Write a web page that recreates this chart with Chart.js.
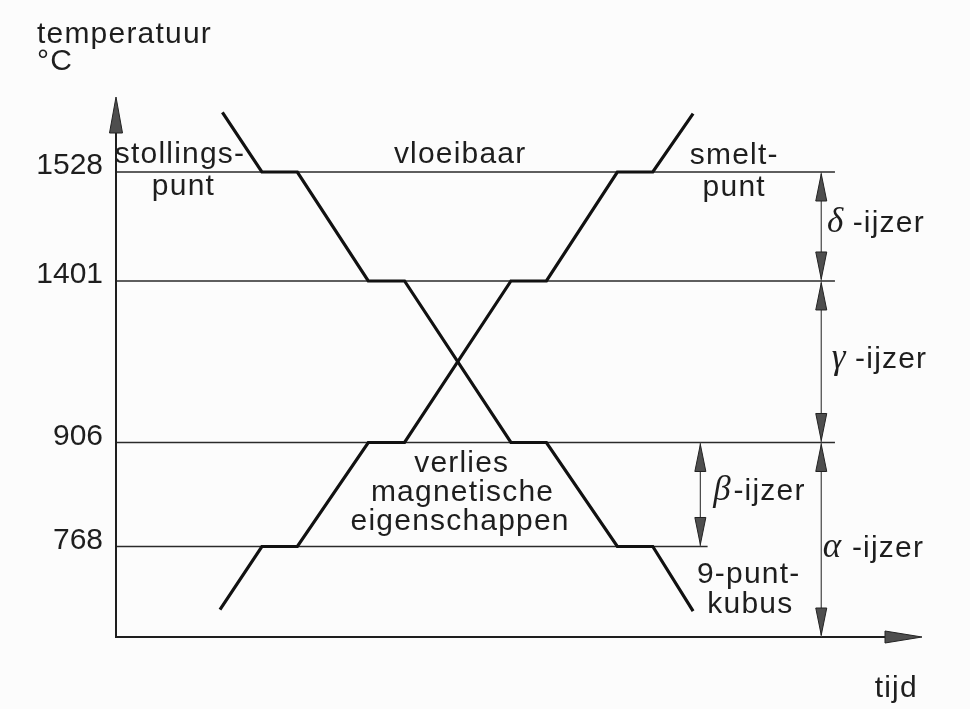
<!DOCTYPE html>
<html>
<head>
<meta charset="utf-8">
<script src="https://cdn.jsdelivr.net/npm/chart.js@4.4.1/dist/chart.umd.min.js"></script>
<style>
  body { margin: 0; background: #fcfcfc; }
  #wrap { width: 970px; height: 709px; }
</style>
</head>
<body>
<div id="wrap"><canvas id="ironChart"></canvas></div>
<script>
// transformation temperatures of iron (°C)
const levelTemps = [1528, 1401, 906, 768];
const tickTemps = [768, 906, 1401, 1528];

// cooling curve: tijd / temperatuur
const coolTime = [13.2, 18.1, 22.5, 31.3, 35.8, 49.0, 53.4, 62.2, 66.6, 71.6];
const coolTemp = [1665, 1528, 1528, 1401, 1401, 906, 906, 768, 768, 648];

// heating curve: tijd / temperatuur
const heatTime = [12.9, 18.1, 22.5, 31.3, 35.8, 49.0, 53.4, 62.2, 66.6, 71.6];
const heatTemp = [651, 768, 768, 906, 906, 1401, 1401, 1528, 1528, 1662];

// ---- layout ----
const Y_MIN = 600, Y_MAX = 1700;
// the temperature axis is schematic: where each temperature sits (fraction of the height)
const knotTemps = [Y_MIN, 768, 906, 1401, 1528, Y_MAX];
const knotFrac = [0, 0.1676, 0.3602, 0.6593, 0.8611, 1];
const levelEnds = [89.2, 89.2, 89.2, 73.4];
const bracketT = 87.5, betaT = 72.5;

const SANS = '"Liberation Sans", Arial, sans-serif';
const SERIF = '"Liberation Serif", "DejaVu Serif", serif';

function tempToFrac(v) {
	for (let i = 1; i < knotTemps.length; i++) {
		if (v <= knotTemps[i] || i === knotTemps.length - 1) {
			const a = knotTemps[i - 1], b = knotTemps[i];
			return knotFrac[i - 1] + ((v - a) / (b - a)) * (knotFrac[i] - knotFrac[i - 1]);
		}
	}
}
function fracToTemp(f) {
	for (let i = 1; i < knotFrac.length; i++) {
		if (f <= knotFrac[i] || i === knotFrac.length - 1) {
			const a = knotFrac[i - 1], b = knotFrac[i];
			return knotTemps[i - 1] + ((f - a) / (b - a)) * (knotTemps[i] - knotTemps[i - 1]);
		}
	}
}

class SchematicScale extends Chart.LinearScale {
	getPixelForValue(value) {
		if (value === null || value === undefined) return NaN;
		return this.getPixelForDecimal(tempToFrac(value));
	}
	getValueForPixel(pixel) {
		return fracToTemp(this.getDecimalForPixel(pixel));
	}
}
SchematicScale.id = "schematic";
SchematicScale.defaults = Chart.LinearScale.defaults;
Chart.register(SchematicScale);

// text labels: x in tijd units, y = temperature level + pixel offset
const labels = [
	{ text: "temperatuur", t: -9.8, temp: Y_MAX, dy: -54, align: "left" },
	{ text: "°C", t: -9.8, temp: Y_MAX, dy: -27, align: "left" },
	{ text: "stollings-", t: 7.94, temp: 1528, dy: -9 },
	{ text: "punt", t: 8.37, temp: 1528, dy: 23 },
	{ text: "vloeibaar", t: 42.7, temp: 1528, dy: -9 },
	{ text: "smelt-", t: 76.7, temp: 1528, dy: -8 },
	{ text: "punt", t: 76.7, temp: 1528, dy: 24 },
	{ text: "verlies", t: 42.9, temp: 906, dy: 29.5 },
	{ text: "magnetische", t: 43.0, temp: 906, dy: 58.5 },
	{ text: "eigenschappen", t: 42.7, temp: 906, dy: 87.5 },
	{ text: "9-punt-", t: 78.5, temp: 768, dy: 36.5 },
	{ text: "kubus", t: 78.7, temp: 768, dy: 66.5 },
	{ text: "tijd", t: 96.8, temp: Y_MIN, dy: 60 },
	{ text: "δ", t: 88.2, temp: 1528, dy: 60, align: "left", greek: true },
	{ text: "-ijzer", t: 91.4, temp: 1528, dy: 60, align: "left" },
	{ text: "γ", t: 88.8, temp: 1401, dy: 87, align: "left", greek: true },
	{ text: "-ijzer", t: 91.7, temp: 1401, dy: 87, align: "left" },
	{ text: "β", t: 74.1, temp: 906, dy: 57.5, align: "left", greek: true },
	{ text: "-ijzer", t: 76.6, temp: 906, dy: 57.5, align: "left" },
	{ text: "α", t: 87.7, temp: 768, dy: 10.5, align: "left", greek: true },
	{ text: "-ijzer", t: 91.3, temp: 768, dy: 10.5, align: "left" },
];

function head(ctx, x, y, dx, dy, len, half) {
	// tip at (x, y), pointing along (dx, dy)
	const bx = x - dx * len, by = y - dy * len;
	const px = -dy * half, py = dx * half;
	ctx.beginPath();
	ctx.moveTo(x, y);
	ctx.lineTo(bx + px, by + py);
	ctx.lineTo(bx - px, by - py);
	ctx.closePath();
	ctx.fillStyle = "#4e4e4e";
	ctx.fill();
	ctx.strokeStyle = "#222";
	ctx.lineWidth = 1;
	ctx.stroke();
}

function doubleArrow(ctx, x, yTop, yBot) {
	ctx.beginPath();
	ctx.moveTo(x, yTop);
	ctx.lineTo(x, yBot);
	ctx.strokeStyle = "#444";
	ctx.lineWidth = 1.2;
	ctx.stroke();
	head(ctx, x, yTop + 2, 0, -1, 27, 5.5);
	head(ctx, x, yBot - 2, 0, 1, 27, 5.5);
}

const extras = {
	id: "extras",
	afterDraw(chart) {
		const ctx = chart.ctx;
		const xs = chart.scales.x, ys = chart.scales.y;
		const area = chart.chartArea;
		ctx.save();

		// axes with arrows
		ctx.strokeStyle = "#1e1e1e";
		ctx.lineWidth = 2;
		ctx.beginPath();
		ctx.moveTo(area.left, area.top + 30);
		ctx.lineTo(area.left, area.bottom);
		ctx.lineTo(area.right - 30, area.bottom);
		ctx.stroke();
		head(ctx, area.left, area.top, 0, -1, 36, 6.5);
		head(ctx, area.right, area.bottom, 1, 0, 37, 6);

		// phase brackets
		const bx = xs.getPixelForValue(bracketT);
		doubleArrow(ctx, bx, ys.getPixelForValue(1528), ys.getPixelForValue(1401));
		doubleArrow(ctx, bx, ys.getPixelForValue(1401), ys.getPixelForValue(906));
		doubleArrow(ctx, bx, ys.getPixelForValue(906), ys.getPixelForValue(Y_MIN));
		doubleArrow(ctx, xs.getPixelForValue(betaT), ys.getPixelForValue(906), ys.getPixelForValue(768));

		// texts
		ctx.fillStyle = "#1e1e1e";
		ctx.textBaseline = "alphabetic";
		labels.forEach((l) => {
			ctx.font = l.greek ? "italic 35px " + SERIF : "30px " + SANS;
			ctx.letterSpacing = l.greek ? "0px" : "1.2px";
			ctx.textAlign = l.align || "center";
			ctx.fillText(l.text, xs.getPixelForValue(l.t), ys.getPixelForValue(l.temp) + l.dy);
		});
		ctx.restore();
	},
};

function pairs(xv, yv) {
	return xv.map((x, i) => ({ x: x, y: yv[i] }));
}

const curveStyle = {
	borderColor: "#111",
	borderWidth: 3.2,
	pointRadius: 0,
	tension: 0,
	fill: false,
};

const datasets = [
	Object.assign({ label: "afkoelen", data: pairs(coolTime, coolTemp) }, curveStyle),
	Object.assign({ label: "opwarmen", data: pairs(heatTime, heatTemp) }, curveStyle),
];
levelTemps.forEach((temp, i) => {
	datasets.push({
		label: String(temp),
		data: [{ x: 0, y: temp }, { x: levelEnds[i], y: temp }],
		borderColor: "#2a2a2a",
		borderWidth: 1.7,
		pointRadius: 0,
		fill: false,
	});
});

new Chart(document.getElementById("ironChart"), {
	type: "line",
	data: { datasets: datasets },
	options: {
		responsive: true,
		maintainAspectRatio: false,
		animation: false,
		layout: { padding: { top: 97, right: 48, bottom: 72, left: 0 } },
		plugins: {
			legend: { display: false },
			tooltip: { enabled: false },
		},
		scales: {
			x: { type: "linear", min: 0, max: 100, display: false },
			y: {
				type: "schematic",
				min: Y_MIN,
				max: Y_MAX,
				grid: { display: false, drawTicks: false },
				border: { display: false },
				afterFit: (s) => {
					s.width = 116;
				},
				afterBuildTicks: (s) => {
					s.ticks = tickTemps.map((v) => ({ value: v }));
				},
				ticks: {
					color: "#1e1e1e",
					padding: 13,
					labelOffset: -6,
					autoSkip: false,
					font: { family: SANS, size: 30 },
					callback: (value) => String(value),
				},
			},
		},
	},
	plugins: [extras],
});
</script>
</body>
</html>
